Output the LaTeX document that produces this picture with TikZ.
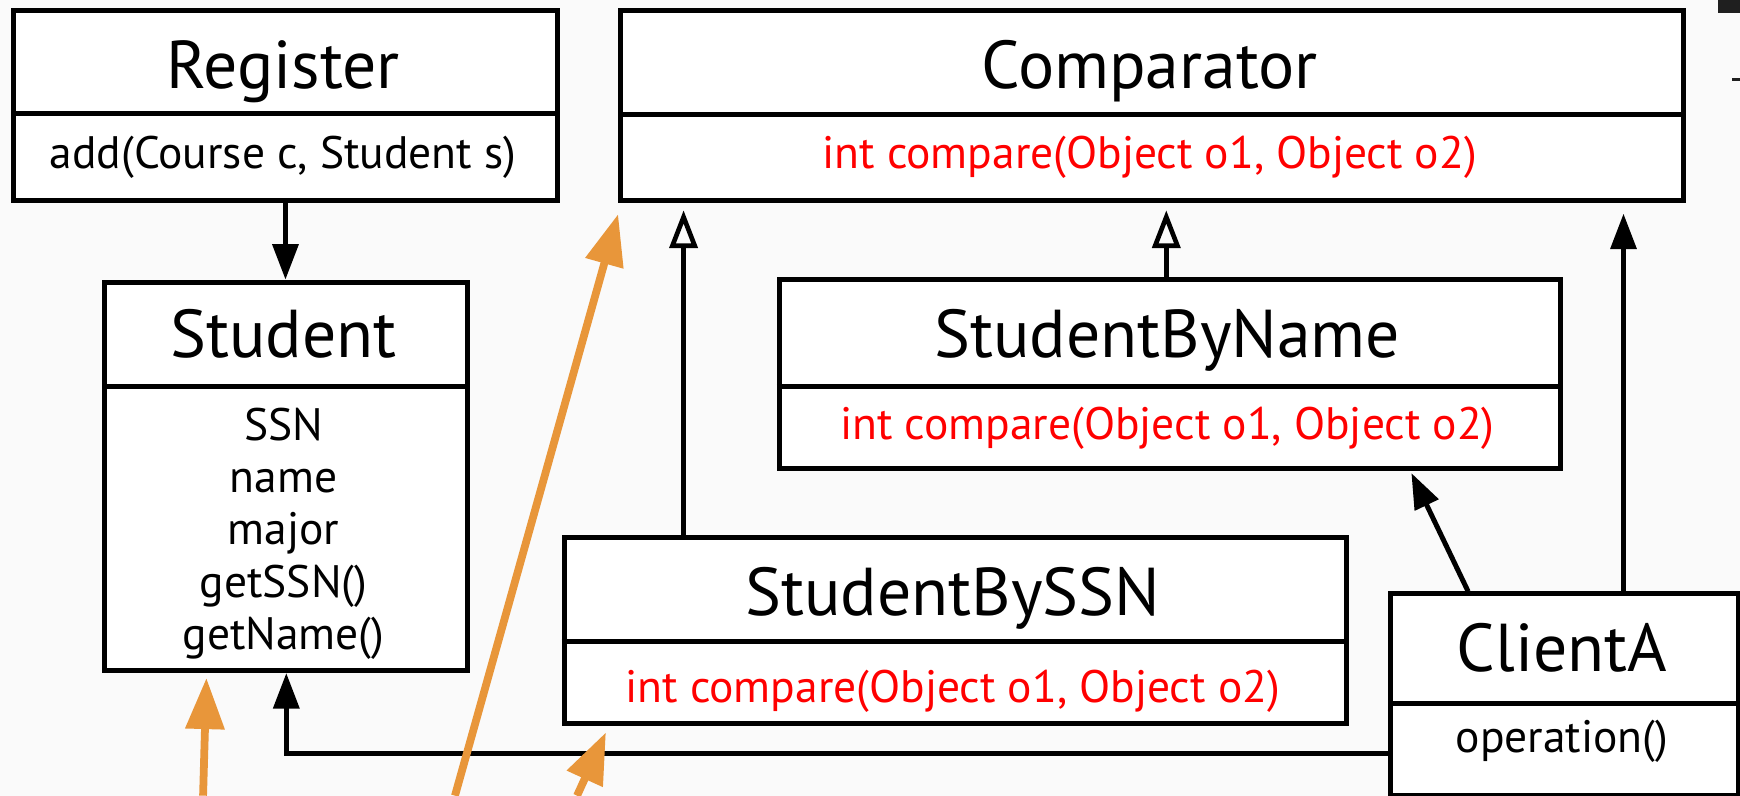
\documentclass[tikz,border=0pt]{standalone}
\usepackage{fontspec}
\setmainfont{PT Sans}
\usetikzlibrary{arrows.meta}
\definecolor{pagebg}{RGB}{250,250,250}
\definecolor{opred}{RGB}{255,0,0}
\definecolor{hintorange}{RGB}{232,150,58}
\begin{document}
\begin{tikzpicture}[x=1pt,y=-1pt,
  classbox/.style={draw=black, line width=4.5pt, fill=white, inner sep=0pt, anchor=north west},
  divider/.style={draw=black, line width=4.5pt},
  ctitle/.style={font=\fontsize{61}{70}\selectfont, anchor=base, inner sep=0pt},
  cmember/.style={font=\fontsize{41}{47}\selectfont, anchor=base, inner sep=0pt},
  opmember/.style={cmember, text=opred},
  assoc/.style={draw=black, line width=4.5pt, -{Triangle[length=32pt,width=23pt]}},
  realize/.style={draw=black, line width=4.2pt, -{Triangle[open,length=34pt,width=25pt]}},
  hint/.style={draw=hintorange, line width=7pt, -{Triangle[length=46pt,width=34pt]}}
]
\fill[pagebg] (0,0) rectangle (1568,717);
\useasboundingbox (0,0) rectangle (1568,717);

% Register
\node[classbox, minimum width=490pt, minimum height=171pt] (reg) at (10,7) {};
\draw[divider] (reg.west |- 0,102) -- (reg.east |- 0,102);
\node[ctitle] (regT) at (255,80) {Register};
\node[cmember] (regM) at (255,152) {add(Course c, Student s)};

% Comparator
\node[classbox, minimum width=958pt, minimum height=171pt] (comp) at (557,7) {};
\draw[divider] (comp.west |- 0,103) -- (comp.east |- 0,103);
\node[ctitle] (compT) at (1036,80) {Comparator};
\node[opmember] (compM) at (1036,152) {int compare(Object o1, Object o2)};

% Student
\node[classbox, minimum width=327pt, minimum height=350pt] (stu) at (92,252) {};
\draw[divider] (stu.west |- 0,348) -- (stu.east |- 0,348);
\node[ctitle] (stuT) at (255.5,322) {Student};
\node[cmember] (stuA) at (255.5,397) {SSN};
\node[cmember] (stuB) at (255.5,444) {name};
\node[cmember] (stuC) at (255.5,491) {major};
\node[cmember] (stuD) at (255.5,538) {getSSN()};
\node[cmember] (stuE) at (255.5,585) {getName()};

% StudentByName
\node[classbox, minimum width=704pt, minimum height=170pt] (sbn) at (700,250) {};
\draw[divider] (sbn.west |- 0,348) -- (sbn.east |- 0,348);
\node[ctitle] (sbnT) at (1052,322) {StudentByName};
\node[opmember] (sbnM) at (1052,396) {int compare(Object o1, Object o2)};

% StudentBySSN
\node[classbox, minimum width=705pt, minimum height=168pt] (ssn) at (506,482) {};
\draw[divider] (ssn.west |- 0,578) -- (ssn.east |- 0,578);
\node[ctitle] (ssnT) at (858.5,555) {StudentBySSN};
\node[opmember] (ssnM) at (858.5,633) {int compare(Object o1, Object o2)};

% ClientA
\node[classbox, minimum width=313pt, minimum height=182pt] (cli) at (1251,533) {};
\draw[divider] (cli.west |- 0,634) -- (cli.east |- 0,634);
\node[ctitle] (cliT) at (1407.5,605) {ClientA};
\node[cmember] (cliM) at (1407.5,678) {operation()};

% associations
\draw[assoc] (reg.south) -- (reg.south |- stu.north);
\coordinate (bend) at (258,679);
\draw[assoc] (cli.west |- bend) -- (bend) -- (bend |- stu.south);
\draw[assoc] (cli.north -| 1463,0) -- ([yshift=-10pt]comp.south -| 1463,0);
\draw[assoc, shorten >=2pt] (cli.north -| 1323,0) -- (sbn.south -| 1271,0);

% realizations
\draw[realize] (ssn.north -| 616,0) -- ([yshift=-7pt]comp.south -| 616,0);
\draw[realize] (sbn.north -| 1051,0) -- ([yshift=-7pt]comp.south -| 1051,0);

% pointers from below
\coordinate (h1s) at (183,717); \coordinate (h1e) at (186,611);
\coordinate (h2s) at (410,717); \coordinate (h2e) at (557,193);
\coordinate (h3s) at (520,717); \coordinate (h3e) at (546,660);
\draw[hint] (h1s) -- (h1e);
\draw[hint] (h2s) -- (h2e);
\draw[hint] (h3s) -- (h3e);

% clipped marks at the right edge
\fill[black!88] (1548,0) rectangle (1568,12);
\fill[black!88] (1561,70) rectangle (1568,73);
\end{tikzpicture}
\end{document}
